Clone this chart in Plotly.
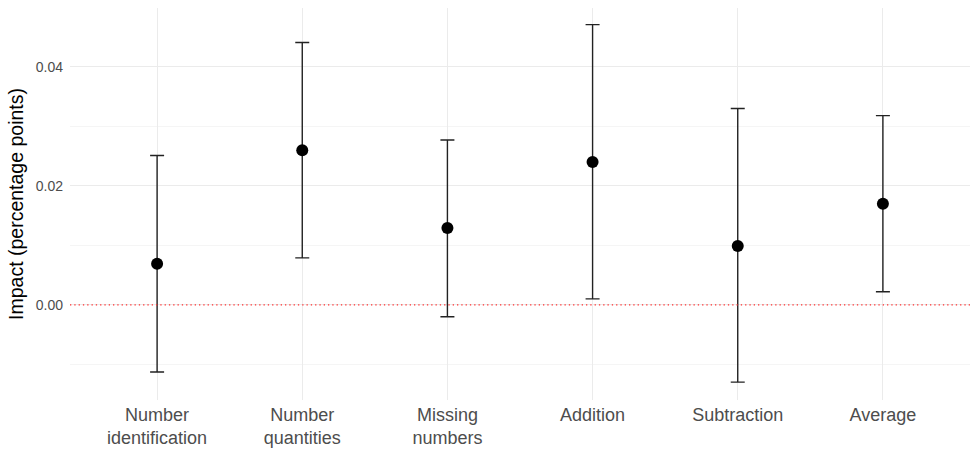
import plotly.graph_objects as go

categories = ["Number<br>identification", "Number<br>quantities", "Missing<br>numbers",
              "Addition", "Subtraction", "Average"]
estimate = [0.0069, 0.0260, 0.0129, 0.0240, 0.0099, 0.0170]
upper = [0.0251, 0.0441, 0.0277, 0.0471, 0.0330, 0.0318]
lower = [-0.0113, 0.0079, -0.0020, 0.0010, -0.0130, 0.0022]

err_plus = [u - e for u, e in zip(upper, estimate)]
err_minus = [e - l for e, l in zip(estimate, lower)]

fig = go.Figure()
fig.add_trace(go.Scatter(
    x=categories, y=estimate, mode="markers",
    marker=dict(color="black", size=12),
    error_y=dict(type="data", symmetric=False, array=err_plus, arrayminus=err_minus,
                 color="#222222", thickness=1.4, width=7),
    showlegend=False,
))
fig.add_hline(y=0, line=dict(color="#ff3030", width=1.3, dash="1.3px,3px"))

fig.update_layout(
    width=976, height=475,
    margin=dict(l=70, r=6, t=8, b=75),
    plot_bgcolor="white", paper_bgcolor="white",
    font=dict(family="Liberation Sans, Arial, sans-serif"),
    xaxis=dict(
        range=[-0.6, 5.6], showgrid=True, gridcolor="#ebebeb", gridwidth=1.2,
        tickfont=dict(size=18, color="#4d4d4d"), zeroline=False, ticks="",
        showline=False, ticklabelstandoff=2,
    ),
    yaxis=dict(
        range=[-0.016, 0.0499], tick0=0, dtick=0.02, tickformat=".2f",
        showgrid=True, gridcolor="#ebebeb", gridwidth=1.2,
        minor=dict(dtick=0.01, showgrid=True, gridcolor="#f5f5f5", gridwidth=1),
        tickfont=dict(size=14, color="#4d4d4d"), zeroline=False, ticks="",
        ticklabelstandoff=6,
        title=dict(text="Impact (percentage points)", font=dict(size=19.5, color="black"), standoff=6),
    ),
)

fig.write_html("out.html")
